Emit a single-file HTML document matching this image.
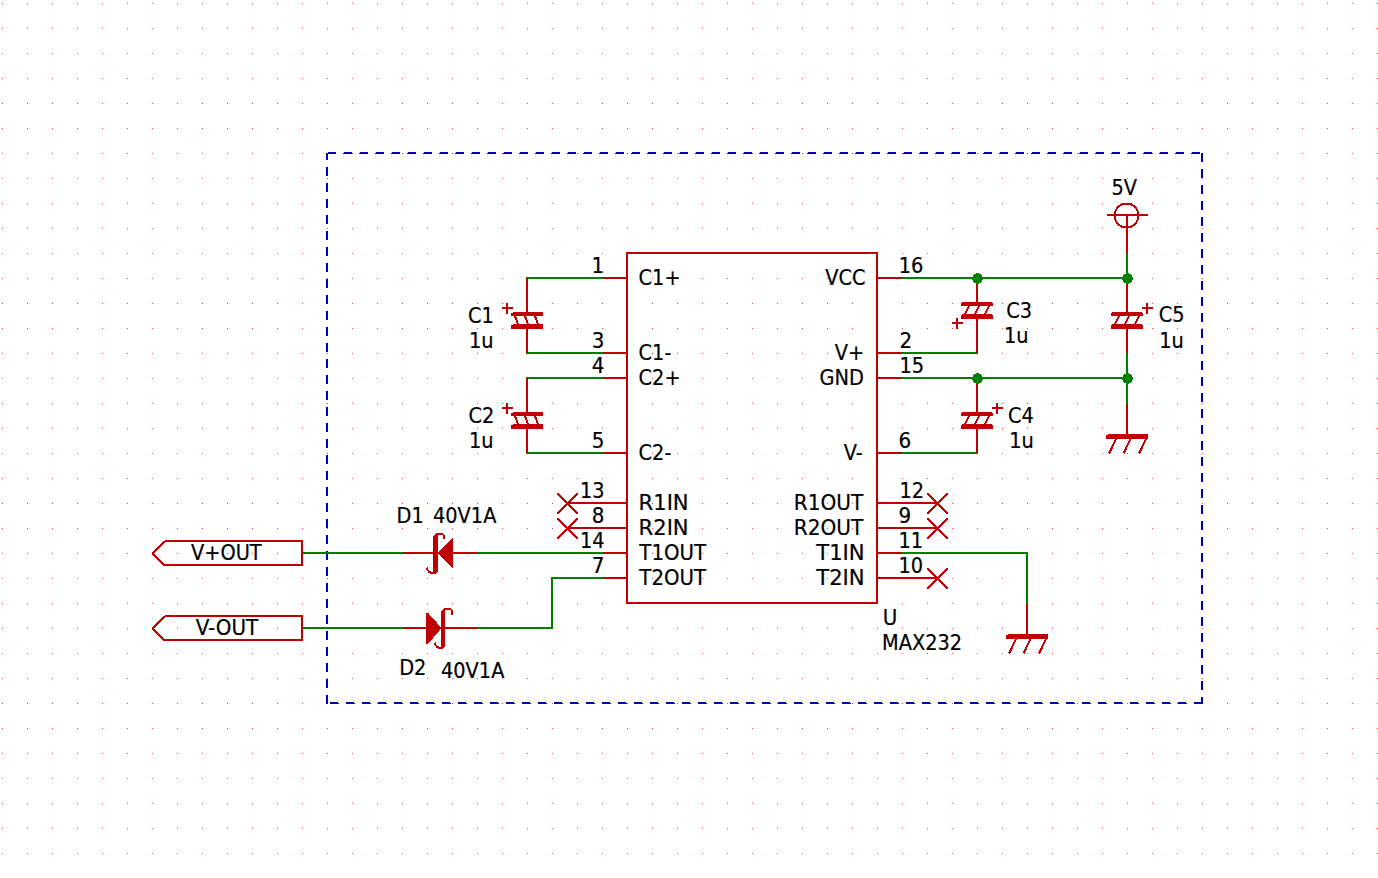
<!DOCTYPE html>
<html lang="en"><head><meta charset="utf-8"><title>MAX232 schematic</title>
<style>
html,body{margin:0;padding:0;background:#fff;overflow:hidden}
svg{display:block}
text{font-family:"DejaVu Sans Condensed","DejaVu Sans","Liberation Sans",sans-serif;font-size:21.5px;fill:#000;font-stretch:condensed;stroke:#000;stroke-width:0.2px}
</style></head><body>
<svg width="1378" height="878" viewBox="0 0 1378 878">
<defs><pattern id="grid" x="0" y="0" width="25" height="25" patternUnits="userSpaceOnUse"><rect x="2" y="3" width="1" height="1" fill="#ff4040"/></pattern></defs>
<rect width="1378" height="878" fill="#fff"/>
<rect width="1378" height="878" fill="url(#grid)" shape-rendering="crispEdges"/>
<g shape-rendering="crispEdges">
<path d="M1202,153 V703" stroke="#0000c0" stroke-width="2" stroke-dasharray="9 7" fill="none"/>
<path d="M327,704 V153" stroke="#0000c0" stroke-width="2" stroke-dasharray="9 7" fill="none"/>
<path d="M328,152H336V154H327V153H328ZM344,152H352V154H343V153H344ZM360,152H368V154H359V153H360ZM376,152H384V154H375V153H376ZM392,152H400V154H391V153H392ZM408,152H416V154H407V153H408ZM424,152H432V154H423V153H424ZM440,152H448V154H439V153H440ZM456,152H464V154H455V153H456ZM472,152H480V154H471V153H472ZM488,152H496V154H487V153H488ZM504,152H512V154H503V153H504ZM520,152H528V154H519V153H520ZM536,152H544V154H535V153H536ZM552,152H560V154H551V153H552ZM568,152H576V154H567V153H568ZM584,152H592V154H583V153H584ZM600,152H608V154H599V153H600ZM616,152H624V154H615V153H616ZM632,152H640V154H631V153H632ZM648,152H656V154H647V153H648ZM664,152H672V154H663V153H664ZM680,152H688V154H679V153H680ZM696,152H704V154H695V153H696ZM712,152H720V154H711V153H712ZM728,152H736V154H727V153H728ZM744,152H752V154H743V153H744ZM760,152H768V154H759V153H760ZM776,152H784V154H775V153H776ZM792,152H800V154H791V153H792ZM808,152H816V154H807V153H808ZM824,152H832V154H823V153H824ZM840,152H848V154H839V153H840ZM856,152H864V154H855V153H856ZM872,152H880V154H871V153H872ZM888,152H896V154H887V153H888ZM904,152H912V154H903V153H904ZM920,152H928V154H919V153H920ZM936,152H944V154H935V153H936ZM952,152H960V154H951V153H952ZM968,152H976V154H967V153H968ZM984,152H992V154H983V153H984ZM1000,152H1008V154H999V153H1000ZM1016,152H1024V154H1015V153H1016ZM1032,152H1040V154H1031V153H1032ZM1048,152H1056V154H1047V153H1048ZM1064,152H1072V154H1063V153H1064ZM1080,152H1088V154H1079V153H1080ZM1096,152H1104V154H1095V153H1096ZM1112,152H1120V154H1111V153H1112ZM1128,152H1136V154H1127V153H1128ZM1144,152H1152V154H1143V153H1144ZM1160,152H1168V154H1159V153H1160ZM1176,152H1184V154H1175V153H1176ZM1192,152H1200V154H1191V153H1192ZM1194,702H1202V703H1203V704H1194ZM1178,702H1186V703H1187V704H1178ZM1162,702H1170V703H1171V704H1162ZM1146,702H1154V703H1155V704H1146ZM1130,702H1138V703H1139V704H1130ZM1114,702H1122V703H1123V704H1114ZM1098,702H1106V703H1107V704H1098ZM1082,702H1090V703H1091V704H1082ZM1066,702H1074V703H1075V704H1066ZM1050,702H1058V703H1059V704H1050ZM1034,702H1042V703H1043V704H1034ZM1018,702H1026V703H1027V704H1018ZM1002,702H1010V703H1011V704H1002ZM986,702H994V703H995V704H986ZM970,702H978V703H979V704H970ZM954,702H962V703H963V704H954ZM938,702H946V703H947V704H938ZM922,702H930V703H931V704H922ZM906,702H914V703H915V704H906ZM890,702H898V703H899V704H890ZM874,702H882V703H883V704H874ZM858,702H866V703H867V704H858ZM842,702H850V703H851V704H842ZM826,702H834V703H835V704H826ZM810,702H818V703H819V704H810ZM794,702H802V703H803V704H794ZM778,702H786V703H787V704H778ZM762,702H770V703H771V704H762ZM746,702H754V703H755V704H746ZM730,702H738V703H739V704H730ZM714,702H722V703H723V704H714ZM698,702H706V703H707V704H698ZM682,702H690V703H691V704H682ZM666,702H674V703H675V704H666ZM650,702H658V703H659V704H650ZM634,702H642V703H643V704H634ZM618,702H626V703H627V704H618ZM602,702H610V703H611V704H602ZM586,702H594V703H595V704H586ZM570,702H578V703H579V704H570ZM554,702H562V703H563V704H554ZM538,702H546V703H547V704H538ZM522,702H530V703H531V704H522ZM506,702H514V703H515V704H506ZM490,702H498V703H499V704H490ZM474,702H482V703H483V704H474ZM458,702H466V703H467V704H458ZM442,702H450V703H451V704H442ZM426,702H434V703H435V704H426ZM410,702H418V703H419V704H410ZM394,702H402V703H403V704H394ZM378,702H386V703H387V704H378ZM362,702H370V703H371V704H362ZM346,702H354V703H355V704H346ZM330,702H338V703H339V704H330Z" fill="#0000c0"/>
<line x1="527" y1="278" x2="603" y2="278" stroke="#008000" stroke-width="2" stroke-linecap="square"/>
<line x1="527" y1="353" x2="603" y2="353" stroke="#008000" stroke-width="2" stroke-linecap="square"/>
<line x1="527" y1="378" x2="603" y2="378" stroke="#008000" stroke-width="2" stroke-linecap="square"/>
<line x1="527" y1="453" x2="603" y2="453" stroke="#008000" stroke-width="2" stroke-linecap="square"/>
<line x1="902" y1="278" x2="1127" y2="278" stroke="#008000" stroke-width="2" stroke-linecap="square"/>
<line x1="902" y1="353" x2="977" y2="353" stroke="#008000" stroke-width="2" stroke-linecap="square"/>
<line x1="902" y1="378" x2="1127" y2="378" stroke="#008000" stroke-width="2" stroke-linecap="square"/>
<line x1="902" y1="453" x2="977" y2="453" stroke="#008000" stroke-width="2" stroke-linecap="square"/>
<line x1="1127" y1="253" x2="1127" y2="278" stroke="#008000" stroke-width="2" stroke-linecap="square"/>
<line x1="1127" y1="353" x2="1127" y2="403" stroke="#008000" stroke-width="2" stroke-linecap="square"/>
<line x1="902" y1="553" x2="1027" y2="553" stroke="#008000" stroke-width="2" stroke-linecap="square"/>
<line x1="1027" y1="553" x2="1027" y2="603" stroke="#008000" stroke-width="2" stroke-linecap="square"/>
<line x1="302" y1="553" x2="402" y2="553" stroke="#008000" stroke-width="2" stroke-linecap="square"/>
<line x1="477" y1="553" x2="603" y2="553" stroke="#008000" stroke-width="2" stroke-linecap="square"/>
<line x1="302" y1="628" x2="402" y2="628" stroke="#008000" stroke-width="2" stroke-linecap="square"/>
<line x1="477" y1="628" x2="552" y2="628" stroke="#008000" stroke-width="2" stroke-linecap="square"/>
<line x1="552" y1="628" x2="552" y2="578" stroke="#008000" stroke-width="2" stroke-linecap="square"/>
<line x1="552" y1="578" x2="603" y2="578" stroke="#008000" stroke-width="2" stroke-linecap="square"/>
<rect x="627" y="253" width="250" height="350" fill="none" stroke="#c00000" stroke-width="2"/>
<line x1="603" y1="278" x2="627" y2="278" stroke="#c00000" stroke-width="2" />
<line x1="603" y1="353" x2="627" y2="353" stroke="#c00000" stroke-width="2" />
<line x1="603" y1="378" x2="627" y2="378" stroke="#c00000" stroke-width="2" />
<line x1="603" y1="453" x2="627" y2="453" stroke="#c00000" stroke-width="2" />
<line x1="567" y1="503" x2="627" y2="503" stroke="#c00000" stroke-width="2" />
<line x1="567" y1="528" x2="627" y2="528" stroke="#c00000" stroke-width="2" />
<line x1="603" y1="553" x2="627" y2="553" stroke="#c00000" stroke-width="2" />
<line x1="603" y1="578" x2="627" y2="578" stroke="#c00000" stroke-width="2" />
<line x1="877" y1="278" x2="902" y2="278" stroke="#c00000" stroke-width="2" />
<line x1="877" y1="353" x2="902" y2="353" stroke="#c00000" stroke-width="2" />
<line x1="877" y1="378" x2="902" y2="378" stroke="#c00000" stroke-width="2" />
<line x1="877" y1="453" x2="902" y2="453" stroke="#c00000" stroke-width="2" />
<line x1="877" y1="503" x2="937" y2="503" stroke="#c00000" stroke-width="2" />
<line x1="877" y1="528" x2="937" y2="528" stroke="#c00000" stroke-width="2" />
<line x1="877" y1="553" x2="902" y2="553" stroke="#c00000" stroke-width="2" />
<line x1="877" y1="578" x2="937" y2="578" stroke="#c00000" stroke-width="2" />
<path d="M557,493h2v2h-2zM557,512h2v2h-2zM558,494h2v2h-2zM558,511h2v2h-2zM559,495h2v2h-2zM559,510h2v2h-2zM560,496h2v2h-2zM560,509h2v2h-2zM561,497h2v2h-2zM561,508h2v2h-2zM562,498h2v2h-2zM562,507h2v2h-2zM563,499h2v2h-2zM563,506h2v2h-2zM564,500h2v2h-2zM564,505h2v2h-2zM565,501h2v2h-2zM565,504h2v2h-2zM566,502h2v2h-2zM566,503h2v2h-2zM567,503h2v2h-2zM567,502h2v2h-2zM568,504h2v2h-2zM568,501h2v2h-2zM569,505h2v2h-2zM569,500h2v2h-2zM570,506h2v2h-2zM570,499h2v2h-2zM571,507h2v2h-2zM571,498h2v2h-2zM572,508h2v2h-2zM572,497h2v2h-2zM573,509h2v2h-2zM573,496h2v2h-2zM574,510h2v2h-2zM574,495h2v2h-2zM575,511h2v2h-2zM575,494h2v2h-2zM576,512h2v2h-2zM576,493h2v2h-2z" fill="#c00000"/>
<path d="M557,518h2v2h-2zM557,537h2v2h-2zM558,519h2v2h-2zM558,536h2v2h-2zM559,520h2v2h-2zM559,535h2v2h-2zM560,521h2v2h-2zM560,534h2v2h-2zM561,522h2v2h-2zM561,533h2v2h-2zM562,523h2v2h-2zM562,532h2v2h-2zM563,524h2v2h-2zM563,531h2v2h-2zM564,525h2v2h-2zM564,530h2v2h-2zM565,526h2v2h-2zM565,529h2v2h-2zM566,527h2v2h-2zM566,528h2v2h-2zM567,528h2v2h-2zM567,527h2v2h-2zM568,529h2v2h-2zM568,526h2v2h-2zM569,530h2v2h-2zM569,525h2v2h-2zM570,531h2v2h-2zM570,524h2v2h-2zM571,532h2v2h-2zM571,523h2v2h-2zM572,533h2v2h-2zM572,522h2v2h-2zM573,534h2v2h-2zM573,521h2v2h-2zM574,535h2v2h-2zM574,520h2v2h-2zM575,536h2v2h-2zM575,519h2v2h-2zM576,537h2v2h-2zM576,518h2v2h-2z" fill="#c00000"/>
<path d="M927,493h2v2h-2zM927,512h2v2h-2zM928,494h2v2h-2zM928,511h2v2h-2zM929,495h2v2h-2zM929,510h2v2h-2zM930,496h2v2h-2zM930,509h2v2h-2zM931,497h2v2h-2zM931,508h2v2h-2zM932,498h2v2h-2zM932,507h2v2h-2zM933,499h2v2h-2zM933,506h2v2h-2zM934,500h2v2h-2zM934,505h2v2h-2zM935,501h2v2h-2zM935,504h2v2h-2zM936,502h2v2h-2zM936,503h2v2h-2zM937,503h2v2h-2zM937,502h2v2h-2zM938,504h2v2h-2zM938,501h2v2h-2zM939,505h2v2h-2zM939,500h2v2h-2zM940,506h2v2h-2zM940,499h2v2h-2zM941,507h2v2h-2zM941,498h2v2h-2zM942,508h2v2h-2zM942,497h2v2h-2zM943,509h2v2h-2zM943,496h2v2h-2zM944,510h2v2h-2zM944,495h2v2h-2zM945,511h2v2h-2zM945,494h2v2h-2zM946,512h2v2h-2zM946,493h2v2h-2z" fill="#c00000"/>
<path d="M927,518h2v2h-2zM927,537h2v2h-2zM928,519h2v2h-2zM928,536h2v2h-2zM929,520h2v2h-2zM929,535h2v2h-2zM930,521h2v2h-2zM930,534h2v2h-2zM931,522h2v2h-2zM931,533h2v2h-2zM932,523h2v2h-2zM932,532h2v2h-2zM933,524h2v2h-2zM933,531h2v2h-2zM934,525h2v2h-2zM934,530h2v2h-2zM935,526h2v2h-2zM935,529h2v2h-2zM936,527h2v2h-2zM936,528h2v2h-2zM937,528h2v2h-2zM937,527h2v2h-2zM938,529h2v2h-2zM938,526h2v2h-2zM939,530h2v2h-2zM939,525h2v2h-2zM940,531h2v2h-2zM940,524h2v2h-2zM941,532h2v2h-2zM941,523h2v2h-2zM942,533h2v2h-2zM942,522h2v2h-2zM943,534h2v2h-2zM943,521h2v2h-2zM944,535h2v2h-2zM944,520h2v2h-2zM945,536h2v2h-2zM945,519h2v2h-2zM946,537h2v2h-2zM946,518h2v2h-2z" fill="#c00000"/>
<path d="M927,568h2v2h-2zM927,587h2v2h-2zM928,569h2v2h-2zM928,586h2v2h-2zM929,570h2v2h-2zM929,585h2v2h-2zM930,571h2v2h-2zM930,584h2v2h-2zM931,572h2v2h-2zM931,583h2v2h-2zM932,573h2v2h-2zM932,582h2v2h-2zM933,574h2v2h-2zM933,581h2v2h-2zM934,575h2v2h-2zM934,580h2v2h-2zM935,576h2v2h-2zM935,579h2v2h-2zM936,577h2v2h-2zM936,578h2v2h-2zM937,578h2v2h-2zM937,577h2v2h-2zM938,579h2v2h-2zM938,576h2v2h-2zM939,580h2v2h-2zM939,575h2v2h-2zM940,581h2v2h-2zM940,574h2v2h-2zM941,582h2v2h-2zM941,573h2v2h-2zM942,583h2v2h-2zM942,572h2v2h-2zM943,584h2v2h-2zM943,571h2v2h-2zM944,585h2v2h-2zM944,570h2v2h-2zM945,586h2v2h-2zM945,569h2v2h-2zM946,587h2v2h-2zM946,568h2v2h-2z" fill="#c00000"/>
<line x1="527" y1="278" x2="527" y2="313" stroke="#c00000" stroke-width="2" />
<line x1="527" y1="328" x2="527" y2="353" stroke="#c00000" stroke-width="2" />
<path d="M513,312H543V313H543V316H511V313H513Z" fill="#c00000"/>
<path d="M513,324H543V325H543V329H511V325H513Z" fill="#c00000"/>
<line x1="515" y1="316" x2="518" y2="324" stroke="#c00000" stroke-width="2"/>
<line x1="525" y1="316" x2="528" y2="324" stroke="#c00000" stroke-width="2"/>
<line x1="535" y1="316" x2="538" y2="324" stroke="#c00000" stroke-width="2"/>
<path d="M502,308 H513 M507,303 V314" stroke="#c00000" stroke-width="2" fill="none"/>
<line x1="527" y1="378" x2="527" y2="413" stroke="#c00000" stroke-width="2" />
<line x1="527" y1="428" x2="527" y2="453" stroke="#c00000" stroke-width="2" />
<path d="M513,412H543V413H543V416H511V413H513Z" fill="#c00000"/>
<path d="M513,424H543V425H543V429H511V425H513Z" fill="#c00000"/>
<line x1="515" y1="416" x2="518" y2="424" stroke="#c00000" stroke-width="2"/>
<line x1="525" y1="416" x2="528" y2="424" stroke="#c00000" stroke-width="2"/>
<line x1="535" y1="416" x2="538" y2="424" stroke="#c00000" stroke-width="2"/>
<path d="M502,408 H513 M507,403 V414" stroke="#c00000" stroke-width="2" fill="none"/>
<line x1="977" y1="278" x2="977" y2="303" stroke="#c00000" stroke-width="2" />
<line x1="977" y1="318" x2="977" y2="353" stroke="#c00000" stroke-width="2" />
<path d="M962,302H992V303H993V306H961V303H962Z" fill="#c00000"/>
<path d="M962,314H992V315H993V319H961V315H962Z" fill="#c00000"/>
<line x1="969" y1="306" x2="965" y2="314" stroke="#c00000" stroke-width="2"/>
<line x1="979" y1="306" x2="975" y2="314" stroke="#c00000" stroke-width="2"/>
<line x1="989" y1="306" x2="985" y2="314" stroke="#c00000" stroke-width="2"/>
<path d="M952,323 H963 M957,318 V329" stroke="#c00000" stroke-width="2" fill="none"/>
<line x1="977" y1="378" x2="977" y2="413" stroke="#c00000" stroke-width="2" />
<line x1="977" y1="428" x2="977" y2="453" stroke="#c00000" stroke-width="2" />
<path d="M962,412H992V413H993V416H961V413H962Z" fill="#c00000"/>
<path d="M962,424H992V425H993V429H961V425H962Z" fill="#c00000"/>
<line x1="969" y1="416" x2="965" y2="424" stroke="#c00000" stroke-width="2"/>
<line x1="979" y1="416" x2="975" y2="424" stroke="#c00000" stroke-width="2"/>
<line x1="989" y1="416" x2="985" y2="424" stroke="#c00000" stroke-width="2"/>
<path d="M992,408 H1003 M997,403 V414" stroke="#c00000" stroke-width="2" fill="none"/>
<line x1="1127" y1="278" x2="1127" y2="313" stroke="#c00000" stroke-width="2" />
<line x1="1127" y1="328" x2="1127" y2="353" stroke="#c00000" stroke-width="2" />
<path d="M1112,312H1142V313H1143V316H1111V313H1112Z" fill="#c00000"/>
<path d="M1112,324H1142V325H1143V329H1111V325H1112Z" fill="#c00000"/>
<line x1="1119" y1="316" x2="1115" y2="324" stroke="#c00000" stroke-width="2"/>
<line x1="1129" y1="316" x2="1125" y2="324" stroke="#c00000" stroke-width="2"/>
<line x1="1139" y1="316" x2="1135" y2="324" stroke="#c00000" stroke-width="2"/>
<path d="M1142,308 H1153 M1147,303 V314" stroke="#c00000" stroke-width="2" fill="none"/>
<line x1="1127" y1="215" x2="1127" y2="253" stroke="#c00000" stroke-width="2" />
<line x1="1107" y1="215" x2="1148" y2="215" stroke="#c00000" stroke-width="2" />
<path d="M1121,203h11v1h-11zM1120,204h13v1h-13zM1118,205h4v1h-4zM1131,205h4v1h-4zM1117,206h3v1h-3zM1133,206h3v1h-3zM1116,207h3v1h-3zM1134,207h3v1h-3zM1116,208h2v1h-2zM1135,208h2v1h-2zM1115,209h2v1h-2zM1136,209h2v1h-2zM1115,210h2v1h-2zM1136,210h2v1h-2zM1114,211h2v1h-2zM1137,211h2v1h-2zM1114,212h2v1h-2zM1137,212h2v1h-2zM1114,213h2v1h-2zM1137,213h2v1h-2zM1114,214h2v1h-2zM1137,214h2v1h-2zM1114,215h2v1h-2zM1137,215h2v1h-2zM1114,216h2v1h-2zM1137,216h2v1h-2zM1114,217h2v1h-2zM1137,217h2v1h-2zM1114,218h2v1h-2zM1137,218h2v1h-2zM1114,219h2v1h-2zM1137,219h2v1h-2zM1115,220h2v1h-2zM1136,220h2v1h-2zM1115,221h2v1h-2zM1136,221h2v1h-2zM1116,222h2v1h-2zM1135,222h2v1h-2zM1116,223h3v1h-3zM1134,223h3v1h-3zM1117,224h3v1h-3zM1133,224h3v1h-3zM1118,225h4v1h-4zM1131,225h4v1h-4zM1120,226h13v1h-13zM1121,227h11v1h-11z" fill="#c00000"/>
<line x1="1127" y1="404" x2="1127" y2="435" stroke="#c00000" stroke-width="2" />
<path d="M1108,434H1148V439H1106V435H1108Z" fill="#c00000"/>
<line x1="1116.5" y1="438" x2="1109.0" y2="453.5" stroke="#c00000" stroke-width="2"/>
<line x1="1131" y1="438" x2="1123.5" y2="453.5" stroke="#c00000" stroke-width="2"/>
<line x1="1146.5" y1="438" x2="1139.0" y2="453.5" stroke="#c00000" stroke-width="2"/>
<line x1="1027" y1="604" x2="1027" y2="635" stroke="#c00000" stroke-width="2" />
<path d="M1008,634H1048V639H1006V635H1008Z" fill="#c00000"/>
<line x1="1016.5" y1="638" x2="1009.0" y2="653.5" stroke="#c00000" stroke-width="2"/>
<line x1="1031" y1="638" x2="1023.5" y2="653.5" stroke="#c00000" stroke-width="2"/>
<line x1="1046.5" y1="638" x2="1039.0" y2="653.5" stroke="#c00000" stroke-width="2"/>
<g transform="translate(439.5,553)">
<line x1="-36.5" y1="0" x2="37.5" y2="0" stroke="#c00000" stroke-width="2"/>
<polygon points="-2,0 13.5,-15.2 13.5,15.9" fill="#c00000"/>
<path d="M-6.5,-14 C-6.5,-17.5 -4.5,-20 -2,-20 L1.5,-20 C4,-20 5.5,-18 5.5,-16 L5.5,-14.3 L3.6,-14.3 L3.6,-16 C3.6,-17.2 2.8,-18.1 1.5,-18.1 L-1.5,-18.1 L-1.5,18 C-1.5,19.5 -3.5,20.8 -5.4,20.8 L-9.2,20.8 C-11,20.8 -12.5,18 -13.5,15.4 L-12.1,14.1 C-11.5,16 -10.5,18.6 -8.5,18.6 L-6.5,18.6 Z" fill="#c00000"/>
</g>
<g transform="translate(439.5,628)">
<line x1="-36.5" y1="0" x2="37.5" y2="0" stroke="#c00000" stroke-width="2"/>
<polygon points="2,0 -11.5,-15.2 -13.5,-15.2 -13.5,15.9 -11.5,15.9" fill="#c00000"/>
<path d="M1.5,-14 C1.5,-17.5 3.5,-20 6,-20 L9.5,-20 C12,-20 13.5,-18 13.5,-16 L13.5,-13 L11.6,-13 L11.6,-16 C11.6,-17.2 10.8,-18.1 9.5,-18.1 L5.5,-18.1 L5.5,18 C5.5,19.5 4.5,20.8 2.5999999999999996,20.8 L-1.1999999999999993,20.8 C-3,20.8 -4.5,18 -5.5,15.4 L-4.1,14.1 C-3.5,16 -2.5,18.6 -0.5,18.6 L1.5,18.6 Z" fill="#c00000"/>
</g>
<path d="M976,273h3v1h-3zM974,274h7v1h-7zM973,275h9v1h-9zM973,276h9v1h-9zM972,277h11v1h-11zM972,278h11v1h-11zM972,279h11v1h-11zM973,280h9v1h-9zM973,281h9v1h-9zM974,282h7v1h-7zM976,283h3v1h-3z" fill="#008000"/>
<path d="M1126,273h3v1h-3zM1124,274h7v1h-7zM1123,275h9v1h-9zM1123,276h9v1h-9zM1122,277h11v1h-11zM1122,278h11v1h-11zM1122,279h11v1h-11zM1123,280h9v1h-9zM1123,281h9v1h-9zM1124,282h7v1h-7zM1126,283h3v1h-3z" fill="#008000"/>
<path d="M976,373h3v1h-3zM974,374h7v1h-7zM973,375h9v1h-9zM973,376h9v1h-9zM972,377h11v1h-11zM972,378h11v1h-11zM972,379h11v1h-11zM973,380h9v1h-9zM973,381h9v1h-9zM974,382h7v1h-7zM976,383h3v1h-3z" fill="#008000"/>
<path d="M1126,373h3v1h-3zM1124,374h7v1h-7zM1123,375h9v1h-9zM1123,376h9v1h-9zM1122,377h11v1h-11zM1122,378h11v1h-11zM1122,379h11v1h-11zM1123,380h9v1h-9zM1123,381h9v1h-9zM1124,382h7v1h-7zM1126,383h3v1h-3z" fill="#008000"/>
<path d="M165,540H303V566H163V564H301V542H165ZM152,552h2v2h-2zM152,553h2v2h-2zM153,551h2v2h-2zM153,554h2v2h-2zM154,550h2v2h-2zM154,555h2v2h-2zM155,549h2v2h-2zM155,556h2v2h-2zM156,548h2v2h-2zM156,557h2v2h-2zM157,547h2v2h-2zM157,558h2v2h-2zM158,546h2v2h-2zM158,559h2v2h-2zM159,545h2v2h-2zM159,560h2v2h-2zM160,544h2v2h-2zM160,561h2v2h-2zM161,543h2v2h-2zM161,562h2v2h-2zM162,542h2v2h-2zM162,563h2v2h-2zM163,541h2v2h-2zM163,564h2v2h-2z" fill="#c00000"/>
<path d="M165,615H303V641H163V639H301V617H165ZM152,627h2v2h-2zM152,628h2v2h-2zM153,626h2v2h-2zM153,629h2v2h-2zM154,625h2v2h-2zM154,630h2v2h-2zM155,624h2v2h-2zM155,631h2v2h-2zM156,623h2v2h-2zM156,632h2v2h-2zM157,622h2v2h-2zM157,633h2v2h-2zM158,621h2v2h-2zM158,634h2v2h-2zM159,620h2v2h-2zM159,635h2v2h-2zM160,619h2v2h-2zM160,636h2v2h-2zM161,618h2v2h-2zM161,637h2v2h-2zM162,617h2v2h-2zM162,638h2v2h-2zM163,616h2v2h-2zM163,639h2v2h-2z" fill="#c00000"/>
</g>
<g>
<text transform="translate(604.05,272.5) scale(1.03,1)" text-anchor="end">1</text>
<text transform="translate(638.6,284.5)">C1+</text>
<text transform="translate(604.5,347.5) scale(1.03,1)" text-anchor="end">3</text>
<text transform="translate(638.6,359.5)">C1-</text>
<text transform="translate(604.5,372.5) scale(1.03,1)" text-anchor="end">4</text>
<text transform="translate(638.6,384.5)">C2+</text>
<text transform="translate(604.5,447.5) scale(1.03,1)" text-anchor="end">5</text>
<text transform="translate(638.6,459.5)">C2-</text>
<text transform="translate(604.5,497.5)" text-anchor="end">13</text>
<text transform="translate(638.6,509.5) scale(1.09,1)">R1IN</text>
<text transform="translate(604.5,522.5) scale(1.03,1)" text-anchor="end">8</text>
<text transform="translate(638.6,534.5) scale(1.09,1)">R2IN</text>
<text transform="translate(604.5,547.5)" text-anchor="end">14</text>
<text transform="translate(639.35,559.5) scale(1.021,1)">T1OUT</text>
<text transform="translate(604.5,572.5) scale(1.03,1)" text-anchor="end">7</text>
<text transform="translate(639.35,584.5) scale(1.021,1)">T2OUT</text>
<text transform="translate(898.65,272.5)">16</text>
<text transform="translate(865.5,284.5)" text-anchor="end">VCC</text>
<text transform="translate(899.5,347.5) scale(1.03,1)">2</text>
<text transform="translate(864.3,359.5)" text-anchor="end">V+</text>
<text transform="translate(899.5,372.5)">15</text>
<text transform="translate(863.8,384.5)" text-anchor="end">GND</text>
<text transform="translate(898.45,447.5) scale(1.03,1)">6</text>
<text transform="translate(862.65,459.5)" text-anchor="end">V-</text>
<text transform="translate(899.5,497.5)">12</text>
<text transform="translate(863.25,509.5) scale(1.038,1)" text-anchor="end">R1OUT</text>
<text transform="translate(898.5,522.5) scale(1.03,1)">9</text>
<text transform="translate(863.25,534.5) scale(1.038,1)" text-anchor="end">R2OUT</text>
<text transform="translate(898.55,547.5)">11</text>
<text transform="translate(864.65,559.5) scale(1.093,1)" text-anchor="end">T1IN</text>
<text transform="translate(898.55,572.5)">10</text>
<text transform="translate(864.65,584.5) scale(1.093,1)" text-anchor="end">T2IN</text>
<text transform="translate(882.8,625) scale(1.03,1)">U</text>
<text transform="translate(882,650)">MAX232</text>
<text transform="translate(468,322.5)">C1</text>
<text transform="translate(469.0,347.5)">1u</text>
<text transform="translate(468.6,422.5)">C2</text>
<text transform="translate(469.0,447.5)">1u</text>
<text transform="translate(1006.15,317.5)">C3</text>
<text transform="translate(1003.95,343)">1u</text>
<text transform="translate(1008,422.5)">C4</text>
<text transform="translate(1009.15,447.5)">1u</text>
<text transform="translate(1158.85,322)">C5</text>
<text transform="translate(1159.15,347.5)">1u</text>
<text transform="translate(1111.5,194.7)">5V</text>
<text transform="translate(396.5,523)">D1</text>
<text transform="translate(433,523)">40V1A</text>
<text transform="translate(399.2,674.5)">D2</text>
<text transform="translate(441,678)">40V1A</text>
<text transform="translate(226.35,560)" text-anchor="middle">V+OUT</text>
<text transform="translate(227,635) scale(1.03,1)" text-anchor="middle">V-OUT</text>
</g>
</svg>
</body></html>
